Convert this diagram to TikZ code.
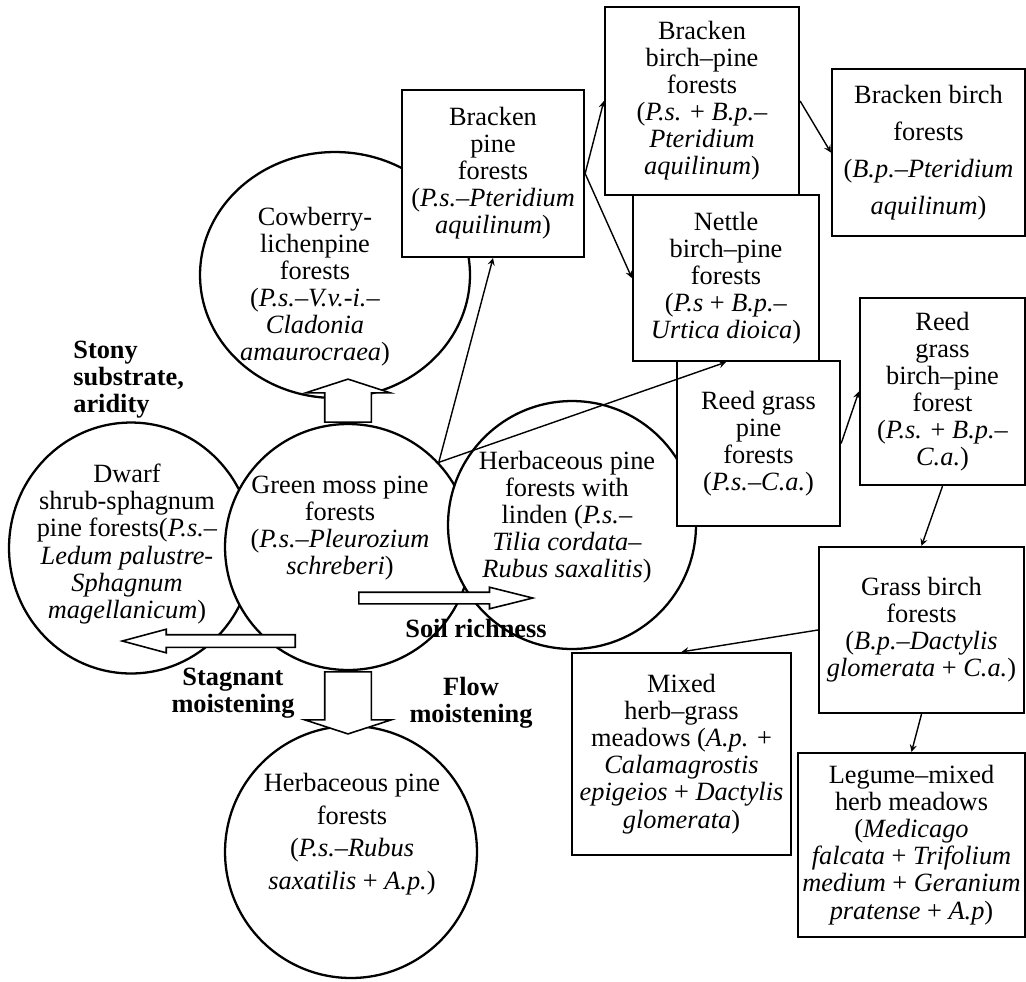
\documentclass[tikz,border=0pt]{standalone}
\usepackage{fontspec}
\setmainfont{Liberation Serif}
\usetikzlibrary{shapes.geometric,shapes.arrows}

\begin{document}
\begin{tikzpicture}[x=0.02cm, y=-0.02cm, font=\fontsize{15}{15.4}\selectfont,
	circ/.style={draw, line width=1.3pt, fill=white, inner sep=0pt},
	bx/.style={draw, rectangle, line width=1.3pt, fill=white, align=center, inner sep=0pt},
	txt/.style={align=center, inner sep=0pt},
	lbl/.style={font=\fontsize{15}{15.4}\selectfont\bfseries, inner sep=0pt},
	blk/.style={draw, single arrow, line width=0.9pt, fill=white, inner xsep=0pt, anchor=tail},
	conn/.style={->, >=stealth, line width=0.8pt}]
	\useasboundingbox (0, 0) rectangle (1026, 981);
	\node[circ, ellipse, minimum width=5.4cm, minimum height=4.92cm] (CB)at(335, 275) {};
	\node[txt] (CBt)at(315, 287) {Cowberry-\\lichenpine\\forests\\(\textit{P.s.–V.v.-i.–}\\\textit{Cladonia}\\\textit{amaurocraea})};
	\node[bx, minimum width=3.64cm, minimum height=3.34cm] (BP)at(493, 173.5) {Bracken\\pine\\forests\\(\textit{P.s.–Pteridium}\\\textit{aquilinum})};
	\node[bx, minimum width=3.88cm, minimum height=3.76cm] (BBP)at(702, 101) {Bracken\\birch–pine\\forests\\(\textit{P.s.} + \textit{B.p.–}\\\textit{Pteridium}\\\textit{aquilinum})};
	\node[bx, minimum width=3.86cm, minimum height=3.34cm, font=\fontsize{15}{21}\selectfont] (BB)at(928.5, 152.5) {Bracken birch\\forests\\(\textit{B.p.–Pteridium}\\\textit{aquilinum})};
	\node[bx, minimum width=3.72cm, minimum height=3.32cm] (NBP)at(726, 278) {Nettle\\birch–pine\\forests\\(\textit{P.s} + \textit{B.p.–}\\\textit{Urtica dioica})};
	\node[circ, ellipse, minimum width=4.88cm, minimum height=5.02cm] (DS)at(131, 548) {};
	\node[txt] (DSt)at(127, 544) {Dwarf\\shrub-sphagnum\\pine forests(\textit{P.s.–}\\\textit{Ledum palustre-}\\\textit{Sphagnum}\\\textit{magellanicum})};
	\node[circ, circle, minimum size=4.92cm] (GM)at(348, 547) {};
	\node[txt] (GMt)at(340, 528) {Green moss pine\\forests\\(\textit{P.s.–Pleurozium}\\\textit{schreberi})};
	\node[circ, circle, minimum size=4.96cm] (HL)at(572, 525) {};
	\node[txt] (HLt)at(567, 517) {Herbaceous pine\\forests with\\linden (\textit{P.s.–}\\\textit{Tilia cordata–}\\\textit{Rubus saxalitis})};
	\node[bx, minimum width=3.26cm, minimum height=3.3cm] (RP)at(758.5, 443.5) {Reed grass\\pine\\forests\\(\textit{P.s.–C.a.})};
	\node[bx, minimum width=3.3cm, minimum height=3.74cm] (RBP)at(942.5, 391.5) {Reed\\grass\\birch–pine\\forest\\(\textit{P.s.} + \textit{B.p.–}\\\textit{C.a.})};
	\node[bx, minimum width=4.1cm, minimum height=3.32cm] (GB)at(921.5, 630) {Grass birch\\forests\\(\textit{B.p.–Dactylis}\\\textit{glomerata} + \textit{C.a.})};
	\node[bx, minimum width=4.38cm, minimum height=4.04cm] (MH)at(681.5, 754) {Mixed\\herb–grass\\meadows (\textit{A.p.} +\\\textit{Calamagrostis}\\\textit{epigeios} + \textit{Dactylis}\\\textit{glomerata})};
	\node[bx, minimum width=4.54cm, minimum height=3.68cm] (LM)at(911.5, 845) {Legume–mixed\\herb meadows\\(\textit{Medicago}\\\textit{falcata} + \textit{Trifolium}\\\textit{medium} + \textit{Geranium}\\\textit{pratense} + \textit{A.p})};
	\node[circ, circle, minimum size=5.04cm] (HP)at(351, 852) {};
	\node[txt, font=\fontsize{15}{18.5}\selectfont] (HPt)at(352, 834) {Herbaceous pine\\forests\\(\textit{P.s.–Rubus}\\\textit{saxatilis} + \textit{A.p.})};
	\node[blk, rotate=90, inner ysep=0.45cm, minimum height=0.86cm, minimum width=1.66cm, single arrow head extend=0.38cm, single arrow tip angle=144] (UP)at(GM.north) {};
	\node[blk, rotate=-90, inner ysep=0.45cm, minimum height=1.24cm, minimum width=1.7cm, single arrow head extend=0.4cm, single arrow tip angle=144] (DN)at(GM.south) {};
	\node[blk, rotate=180, inner ysep=0.11cm, minimum height=3.46cm, minimum width=0.44cm, single arrow head extend=0.11cm, single arrow tip angle=30] (LT)at(296, 641) {};
	\node[blk, inner ysep=0.1cm, minimum height=3.48cm, minimum width=0.4cm, single arrow head extend=0.1cm, single arrow tip angle=28] (RT)at(358, 598) {};
	\draw[conn] (GM.43) -- (BP.south);
	\draw[conn] (GM.43) -- (NBP.south);
	\draw[conn] (BP.east) -- (BBP.west);
	\draw[conn] (BP.east) -- (NBP.west);
	\draw[conn] (BBP.east) -- (BB.west);
	\draw[conn] (RP.east) -- (RBP.west);
	\draw[conn] (RBP.south) -- (GB.north);
	\draw[conn] (GB.west) -- (MH.north);
	\draw[conn] (GB.south) -- (LM.north);
	\node[lbl, align=left, anchor=west] (SS)at(73, 380) {Stony\\substrate,\\aridity};
	\node[lbl, align=center] (SM)at(233, 693) {Stagnant\\moistening};
	\node[lbl, align=center] (FM)at(471, 703) {Flow\\moistening};
	\node[lbl] (SR)at(476, 628) {Soil richness};
\end{tikzpicture}
\end{document}
